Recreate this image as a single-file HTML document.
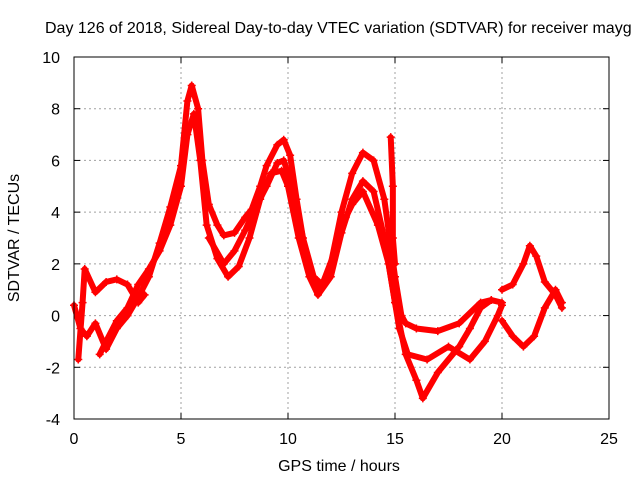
<!DOCTYPE html>
<html><head><meta charset="utf-8"><style>
body{margin:0;background:#fff;}
svg{display:block;font-family:"Liberation Sans",sans-serif;}
</style></head><body>
<svg id="chart" width="640" height="480">
<text x="45" y="33" font-size="16">Day 126 of 2018, Sidereal Day-to-day VTEC variation (SDTVAR) for receiver mayg</text>
<text x="339" y="471" font-size="16" text-anchor="middle">GPS time / hours</text>
<text x="19" y="238" font-size="16" text-anchor="middle" transform="rotate(-90 19 238)">SDTVAR / TECUs</text>
<g id="grid"></g><g id="ticks"></g><g id="marks"></g>
<rect x="74" y="57" width="535" height="362" fill="none" stroke="#000" stroke-width="1"/>
</svg>
<script>
const xTicks=[0,5,10,15,20,25];
const yTicks=[-4,-2,0,2,4,6,8,10];
const trackA=[[0,0.4],[0.3,-0.5],[0.6,-0.8],[1,-0.3],[1.5,-1.3],[2,-0.5],[2.5,0],[3,0.7],[3.5,1.5],[4,2.8],[4.5,4.2],[5,5.8],[5.3,8.3],[5.5,8.9],[5.8,8],[6,6],[6.3,4.3],[6.7,3.5],[7,3.1],[7.5,3.2],[8,3.8],[8.3,4.1],[8.7,5],[9,5.8],[9.5,6.6],[9.8,6.8],[10.1,6.2],[10.4,4.5],[10.8,2.5],[11.2,1.3],[11.5,1],[12,2],[12.5,4],[13,5.5],[13.5,6.3],[14,6],[14.5,4.5],[15,1.5],[15.3,0],[15.5,-0.3],[16,-0.5],[17,-0.6],[18,-0.3],[19,0.5],[19.5,0.6],[20,0.5]];
const trackB=[[1.2,-1.5],[1.5,-1],[2,-0.2],[2.5,0.3],[3,1.2],[3.5,1.8],[4,2.5],[4.5,3.5],[5,5],[5.3,7],[5.6,7.8],[5.9,6],[6.2,3.5],[6.7,2.2],[7.2,1.5],[7.7,1.9],[8.2,3],[8.7,4.5],[9.2,5.5],[9.7,5.6],[10,5],[10.5,3],[11,1.5],[11.4,0.8],[12,1.5],[12.5,3.2],[13,4.5],[13.5,5.2],[14,4.8],[14.5,3],[15,0.5],[15.5,-1.5],[16,-2.5],[16.3,-3.2],[17,-2.2],[18,-1.2],[18.5,-0.5],[19,0.3],[19.5,0.6]];
const trackC=[[6.3,3],[7,2],[7.5,2.5],[8,3.3],[8.5,4.2],[9,5],[9.5,5.9],[9.8,6],[10.2,5],[10.7,3],[11.2,1.5],[11.6,1.2],[12.2,2.5],[12.7,3.8],[13,4.3],[13.5,4.8],[14.2,3.5],[14.7,2],[15.2,-0.5],[15.6,-1.5],[16.5,-1.7],[17.5,-1.2],[18.5,-1.7],[19.2,-1],[19.8,0],[20,0.4]];
const trackD=[[20,1],[20.5,1.2],[21,2],[21.3,2.7],[21.6,2.3],[22,1.3],[22.5,0.8],[22.8,0.3]];
const trackE=[[20,-0.2],[20.5,-0.8],[21,-1.2],[21.5,-0.8],[22,0.3],[22.5,1],[22.8,0.5]];
const trackF=[[0.2,-1.7],[0.4,0.5],[0.5,1.8],[1,0.9],[1.5,1.3],[2,1.4],[2.5,1.2],[3,0.5],[3.3,0.8]];
const trackG=[[14.8,6.9],[14.9,5],[14.9,3],[15,2]];
const tracks=[trackA,trackB,trackC,trackD,trackE,trackF,trackG];
const X0=74,X1=609,Y0=419,Y1=57;
const sx=v=>X0+(v-0)/(25-0)*(X1-X0);
const sy=v=>Y0-(v+4)/(10+4)*(Y0-Y1);
const NS="http://www.w3.org/2000/svg";
const grid=document.getElementById('grid'),ticks=document.getElementById('ticks'),marks=document.getElementById('marks');
function mk(tag,attrs,parent){const e=document.createElementNS(NS,tag);for(const k in attrs)e.setAttribute(k,attrs[k]);parent.appendChild(e);return e;}
xTicks.forEach(t=>{const x=sx(t);
 if(t>0&&t<25){const g=mk('line',{x1:x,x2:x,y1:Y1,y2:Y0,stroke:'#a0a0a0','stroke-dasharray':'2,3'},grid);
 
 }
 const l=mk('text',{x:x,y:Y0+25,'font-size':16,'text-anchor':'middle'},ticks);l.textContent=t;
 
 
 mk('line',{x1:x,x2:x,y1:Y0,y2:Y0-6,stroke:'#000'},ticks);mk('line',{x1:x,x2:x,y1:Y1,y2:Y1+6,stroke:'#000'},ticks);});
yTicks.forEach(t=>{const y=sy(t);
 if(t>-4&&t<10){const g=mk('line',{x1:X0,x2:X1,y1:y,y2:y,stroke:'#a0a0a0','stroke-dasharray':'2,3'},grid);
 
 }
 const l=mk('text',{x:X0-14,y:y+6,'font-size':16,'text-anchor':'end'},ticks);l.textContent=t;
 
 
 mk('line',{x1:X0,x2:X0+6,y1:y,y2:y,stroke:'#000'},ticks);mk('line',{x1:X1,x2:X1-6,y1:y,y2:y,stroke:'#000'},ticks);});
tracks.forEach((tr,i)=>{
 const p=mk('polyline',{points:tr.map(d=>sx(d[0])+','+sy(d[1])).join(' '),fill:'none',stroke:'#f00','stroke-width':6,'stroke-linejoin':'round','stroke-linecap':'round'},marks);
 
 
 tr.forEach(d=>{const x=sx(d[0]),y=sy(d[1]);
  const m=mk('path',{d:`M${x-4},${y}H${x+4}M${x},${y-4}V${y+4}`,stroke:'#f00','stroke-width':1.5},marks);
  
  });
});
</script>
</body></html>
